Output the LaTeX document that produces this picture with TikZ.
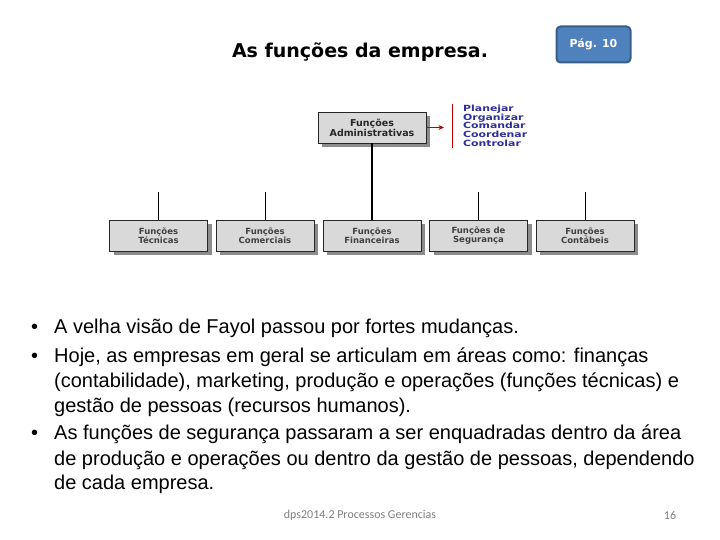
\documentclass[tikz,border=0pt]{standalone}
\usepackage{fontspec}
\setmainfont{Liberation Sans}
\newfontfamily\titlefont{DejaVu Sans}
\newfontfamily\footfont{Carlito}
\usetikzlibrary{arrows.meta}
\definecolor{boxgray}{HTML}{D9D9D9}
\definecolor{shadowgray}{HTML}{8C8C8C}
\definecolor{listblue}{HTML}{2E2E9A}
\definecolor{pagblue}{HTML}{4F81BD}
\definecolor{pagborder}{HTML}{385D8A}
\definecolor{footgray}{HTML}{7F7F7F}
\newcommand{\wideitem}[1]{\scalebox{1.28}[1]{#1}}
\tikzset{
  fbox/.style={draw=black!85, line width=0.8pt, fill=boxgray, minimum width=98pt, minimum height=31pt,
    align=center, font=\titlefont\fontsize{8.5}{9}\selectfont\bfseries, text=black!75,
    preaction={fill=shadowgray, transform canvas={xshift=4pt,yshift=-4pt}}},
  conn/.style={draw=black, line width=0.8pt},
  btext/.style={anchor=base west, inner sep=0pt, font=\fontsize{20}{20}\selectfont},
}
\begin{document}
\begin{tikzpicture}[x=1pt,y=-1pt]
\useasboundingbox (0,0) rectangle (720,540);
% title
\node[inner sep=0pt, font=\titlefont\bfseries\fontsize{19}{19}\selectfont] (title) at (360,52) {As funções da empresa.};
% page badge
\node[draw=pagborder, line width=2pt, fill=pagblue, rounded corners=4pt, minimum width=74pt, minimum height=36pt,
  text=white, font=\titlefont\bfseries\fontsize{11}{11}\selectfont] (pag) at (593.5,44.5) {Pág. 10};
% org chart
\node[fbox, minimum width=108pt, font=\titlefont\fontsize{9.5}{10}\selectfont\bfseries, text=black!85] (adm) at (372,127.5) {Funções\\Administrativas};
\node[fbox] (tec) at (158.5,235.5) {Funções\\Técnicas};
\node[fbox] (com) at (265,235.5) {Funções\\Comerciais};
\node[fbox] (fin) at (372,235.5) {Funções\\Financeiras};
\node[fbox] (seg) at (478.5,235.5) {Funções de\\Segurança};
\node[fbox] (con) at (585,235.5) {Funções\\Contábeis};
\coordinate (ctec) at (158.5,192);
\coordinate (ccom) at (265,192);
\coordinate (cseg) at (478.5,192);
\coordinate (ccon) at (585,192);
\draw[conn, line width=1.2pt] (adm.south) -- (fin.north);
\draw[conn] (ctec) -- (tec.north);
\draw[conn] (ccom) -- (com.north);
\draw[conn] (cseg) -- (seg.north);
\draw[conn] (ccon) -- (con.north);
% red bracket and arrow
\coordinate (rtop) at (452,104);
\coordinate (rbot) at (452,148);
\coordinate (aend) at (444,127.5);
\draw[red!75!black, line width=0.8pt] (rtop) -- (rbot);
\draw[red!75!black, line width=0.8pt, -{Stealth[length=5.5pt,width=5pt]}] (adm.east) -- (aend);
\node[anchor=north west, inner sep=0pt, align=left, text=listblue, font=\titlefont\fontsize{8.5}{8.6}\selectfont\bfseries] (list) at (463,105)
  {\wideitem{Planejar}\\\wideitem{Organizar}\\\wideitem{Comandar}\\\wideitem{Coordenar}\\\wideitem{Controlar}};
% bullets
\node[btext] (b1) at (31,333) {•};
\node[btext] (l1) at (54,333) {A velha visão de Fayol passou por fortes mudanças.};
\node[btext] (b2) at (31,362) {•};
\node[btext] (l2) at (54,362) {Hoje, as empresas em geral se articulam em áreas como: finanças};
\node[btext] (l3) at (54,387) {(contabilidade), marketing, produção e operações (funções técnicas) e};
\node[btext] (l4) at (54,412) {gestão de pessoas (recursos humanos).};
\node[btext] (b3) at (31,439) {•};
\node[btext] (l5) at (54,439) {As funções de segurança passaram a ser enquadradas dentro da área};
\node[btext] (l6) at (54,465) {de produção e operações ou dentro da gestão de pessoas, dependendo};
\node[btext] (l7) at (54,489) {de cada empresa.};
% footer
\node[inner sep=0pt, text=footgray, font=\footfont\fontsize{12}{12}\selectfont] (foot) at (360,515) {dps2014.2 Processos Gerencias};
\node[inner sep=0pt, text=footgray, font=\footfont\fontsize{12}{12}\selectfont] (num) at (670,515) {16};
\end{tikzpicture}
\end{document}
